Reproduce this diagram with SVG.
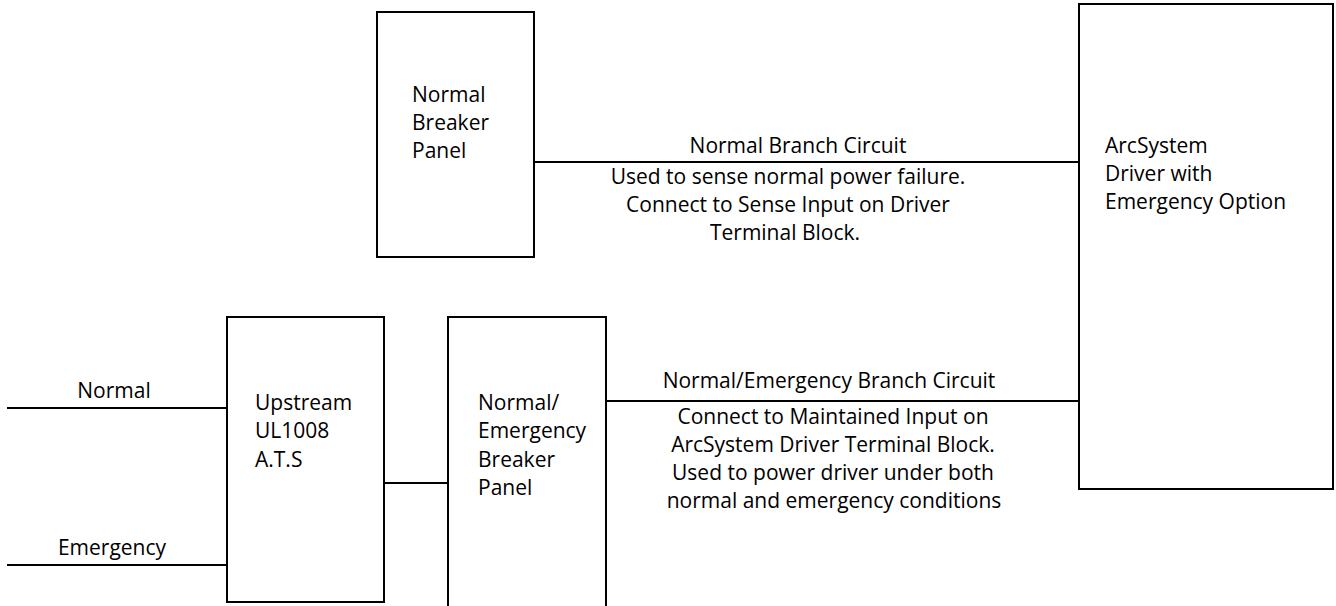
<svg xmlns="http://www.w3.org/2000/svg" width="1336" height="606" viewBox="0 0 1336 606">
  <style>
    .box { fill: #ffffff; stroke: #000000; stroke-width: 2; }
    .wire { stroke: #000000; stroke-width: 2; fill: none; }
    text { font-family: "Open Sans", "Noto Sans", "DejaVu Sans", sans-serif; font-size: 21px; fill: #000000; }
    .c { text-anchor: middle; }
  </style>
  <rect x="0" y="0" width="1336" height="606" fill="#ffffff"/>

  <g id="connectors">
    <line class="wire" x1="534" y1="162" x2="1079" y2="162"/>
    <line class="wire" x1="606" y1="401" x2="1079" y2="401"/>
    <line class="wire" x1="384" y1="483" x2="448" y2="483"/>
    <line class="wire" x1="7" y1="408" x2="227" y2="408"/>
    <line class="wire" x1="7" y1="565" x2="227" y2="565"/>
    <text class="c" x="798" y="153">Normal Branch Circuit</text>
    <text class="c" x="788" y="184">Used to sense normal power failure.</text>
    <text class="c" x="788" y="212">Connect to Sense Input on Driver</text>
    <text class="c" x="785" y="240">Terminal Block.</text>
    <text class="c" x="829" y="388">Normal/Emergency Branch Circuit</text>
    <text class="c" x="833" y="423.5">Connect to Maintained Input on</text>
    <text class="c" x="833" y="451.5">ArcSystem Driver Terminal Block.</text>
    <text class="c" x="833" y="479.5">Used to power driver under both</text>
    <text class="c" x="834" y="507.5">normal and emergency conditions</text>
    <text class="c" x="114" y="398">Normal</text>
    <text class="c" x="112" y="555">Emergency</text>
  </g>

  <g id="normal-breaker-panel">
    <rect class="box" x="377" y="12" width="157" height="245"/>
    <text x="412" y="102">Normal</text>
    <text x="412" y="130">Breaker</text>
    <text x="412" y="158">Panel</text>
  </g>

  <g id="arcsystem-driver">
    <rect class="box" x="1079" y="4" width="254" height="485"/>
    <text x="1105" y="153">ArcSystem</text>
    <text x="1105" y="181">Driver with</text>
    <text x="1105" y="209">Emergency Option</text>
  </g>

  <g id="ats">
    <rect class="box" x="227" y="317" width="157" height="285"/>
    <text x="255" y="410">Upstream</text>
    <text x="255" y="438">UL1008</text>
    <text x="255" y="467">A.T.S</text>
  </g>

  <g id="normal-emergency-breaker-panel">
    <rect class="box" x="448" y="317" width="158" height="300"/>
    <text x="478" y="410">Normal/</text>
    <text x="478" y="438">Emergency</text>
    <text x="478" y="467">Breaker</text>
    <text x="478" y="495">Panel</text>
  </g>
</svg>
